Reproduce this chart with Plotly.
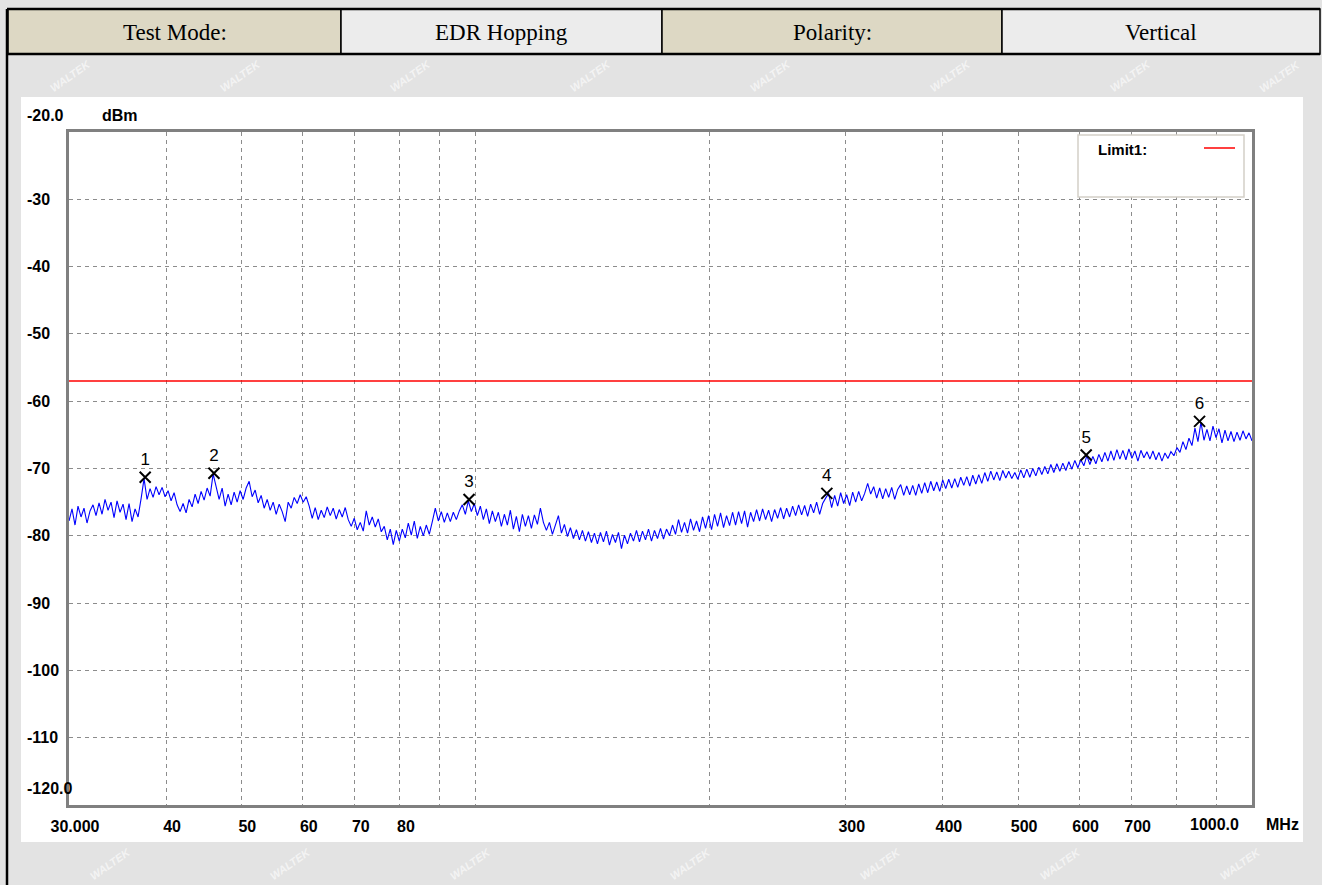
import numpy as np
import plotly.graph_objects as go

# ---------------- data ----------------
header_cells = ["Test Mode:", "EDR Hopping", "Polarity:", "Vertical"]
limit_level = -57.0
limit_freq = [30, 1000]
marker_labels = ["1", "2", "3", "4", "5", "6"]
marker_freq = [37.6, 46.1, 98.2, 283.6, 611.7, 856.0]
marker_level = [-71.3, -70.7, -74.6, -73.7, -68.0, -63.0]
x_tick_vals = [30, 40, 50, 60, 70, 80, 300, 400, 500, 600, 700]
x_tick_text = ["30.000", "40", "50", "60", "70", "80", "300", "400", "500", "600", "700"]
x_grid_vals = [40, 50, 60, 70, 80, 90, 100, 200, 300, 400, 500, 600, 700, 800, 900]
y_tick_vals = [-20, -30, -40, -50, -60, -70, -80, -90, -100, -110, -120]
y_tick_text = ["-20.0", "-30", "-40", "-50", "-60", "-70", "-80", "-90", "-100", "-110", "-120.0"]

levels = [
    -77.8, -76.0, -78.4, -75.6, -77.2, -75.9, -78.1, -76.3, -75.4, -77.0,
    -75.1, -76.8, -74.6, -76.2, -75.0, -77.3, -74.8, -76.5, -75.3, -77.6,
    -75.2, -77.9, -76.0, -77.2, -74.5, -71.5, -74.6, -73.0, -74.3, -72.7,
    -73.9, -72.8, -74.2, -73.3, -74.8, -73.6, -75.4, -76.4, -75.2, -76.6,
    -74.6, -75.7, -73.8, -75.2, -73.4, -74.7, -72.9, -74.1, -70.8, -72.7,
    -74.6, -72.9, -75.6, -73.8, -75.4, -73.5, -75.0, -73.3, -74.6, -72.9,
    -71.9, -74.2, -73.2, -75.1, -74.0, -75.9, -74.6, -76.2, -75.0, -76.8,
    -75.3, -76.4, -77.9, -75.0, -75.9, -74.3, -75.2, -73.9, -75.0, -74.2,
    -75.6, -77.4, -75.8, -77.6, -76.2, -77.3, -75.7, -77.0, -75.9, -77.5,
    -76.1, -77.2, -75.8, -77.6, -78.6, -77.4, -79.1, -78.0, -79.3, -76.3,
    -78.4, -77.2, -78.7, -77.5, -79.4, -78.6, -80.6, -79.0, -81.3, -79.2,
    -80.8, -79.0, -80.3, -78.1, -79.9, -77.8, -80.4, -78.6, -80.0, -78.4,
    -79.8, -77.9, -75.9, -77.8, -76.4, -78.0, -76.6, -77.9, -76.5, -77.6,
    -76.3, -75.4, -76.8, -74.8, -76.4, -75.2, -77.0, -75.6, -77.6, -76.0,
    -78.2, -76.3, -77.9, -76.5, -78.6, -76.8, -78.4, -76.2, -79.0, -77.1,
    -79.4, -76.8, -78.6, -77.0, -78.9, -76.9, -78.3, -75.9, -78.0, -79.2,
    -78.0, -79.8, -78.4, -77.0, -79.6, -78.3, -80.1, -78.8, -80.4, -79.1,
    -80.6, -79.2, -80.8, -79.4, -81.0, -79.6, -81.2, -79.5, -80.9, -79.3,
    -81.4, -79.8, -81.0, -79.5, -81.9, -79.9, -81.2, -79.6, -80.8, -79.2,
    -80.9, -79.3, -80.6, -79.0, -80.8, -79.2, -80.4, -78.9, -80.5, -79.0,
    -80.0, -78.4, -79.8, -77.6, -79.5, -78.0, -79.6, -77.5, -79.2, -77.8,
    -79.4, -77.2, -78.9, -77.0, -79.1, -76.8, -78.6, -76.6, -78.8, -77.0,
    -78.5, -76.5, -78.4, -76.4, -78.2, -76.3, -78.7, -76.5, -77.9, -76.1,
    -77.8, -76.0, -77.6, -76.2, -77.9, -76.1, -77.4, -75.8, -77.5, -75.9,
    -77.2, -75.6, -77.0, -75.4, -76.9, -75.5, -77.1, -75.3, -76.6, -75.0,
    -76.8, -75.2, -74.4, -73.7, -75.8, -74.0, -75.6, -73.6, -75.2, -73.9,
    -75.5, -73.5, -75.0, -73.4, -74.8, -73.7, -72.2, -73.8, -72.7, -74.4,
    -72.9, -74.5, -73.0, -74.3, -72.8, -74.6, -73.1, -72.4, -74.0, -72.6,
    -73.9, -72.5, -74.0, -72.3, -73.7, -72.1, -73.6, -71.9, -73.3, -72.0,
    -73.4, -71.7, -73.0, -71.6, -72.9, -71.5, -72.8, -71.3, -72.5, -71.2,
    -72.6, -71.0, -72.3, -70.9, -72.2, -70.6, -71.9, -70.4, -71.7, -70.5,
    -71.8, -70.3, -71.4, -70.4, -71.5, -70.6, -71.6, -70.2, -71.4, -70.1,
    -71.3, -70.0, -71.1, -69.8, -70.9, -69.7, -70.8, -69.4, -70.6, -69.3,
    -70.4, -69.2, -70.3, -69.0, -70.1, -68.8, -69.9, -68.7, -69.6, -68.1,
    -69.4, -68.2, -69.3, -67.9, -69.0, -67.6, -68.9, -67.4, -68.8, -67.2,
    -68.6, -67.3, -68.7, -67.1, -68.5, -67.4, -68.9, -67.3, -68.4, -67.5,
    -68.6, -67.4, -68.7, -67.6, -68.9, -67.7, -68.5, -67.5, -68.1, -66.9,
    -67.6, -66.0, -67.2, -65.5, -66.6, -64.0, -66.0, -63.1, -65.8, -64.2,
    -65.9, -63.7, -65.4, -64.1, -66.2, -64.3, -65.9, -64.5, -66.0, -64.6,
    -65.8, -64.4, -65.6, -64.7, -65.9,
]
# sweep frequencies (log-spaced receiver sweep 30 MHz .. 1 GHz)
sweep_freq = np.geomspace(30, 1000, len(levels))

# ---------------- layout geometry (pixels) ----------------
W, H = 1322, 885
L, R, T, B = 69, 1252, 132, 805


def px(x):
    return (x - L) / (R - L)


def py(y):
    return (B - y) / (B - T)


AX_FONT = dict(family="Liberation Sans", size=16, color="black")
GRID = "#8c8c8c"

fig = go.Figure()

fig.add_trace(go.Scatter(x=sweep_freq, y=levels, mode="lines",
                         line=dict(color="#0000ff", width=1.1), hoverinfo="skip"))
fig.add_trace(go.Scatter(x=limit_freq, y=[limit_level, limit_level], mode="lines",
                         line=dict(color="#ff0000", width=1.5), hoverinfo="skip"))
fig.add_trace(go.Scatter(x=marker_freq, y=marker_level, mode="markers+text",
                         text=marker_labels, textposition="top center",
                         textfont=dict(family="Liberation Sans", size=17, color="black"),
                         marker=dict(symbol="x-thin", size=11,
                                     line=dict(color="black", width=2)),
                         hoverinfo="skip"))

shapes = []
# white chart panel
shapes.append(dict(type="rect", xref="paper", yref="paper", x0=px(21), x1=px(1303),
                   y0=py(842), y1=py(97), fillcolor="white", line=dict(width=0), layer="below"))
# header cells
cell_edges = [8, 341, 662, 1002, 1320]
cell_fill = ["#ddd8c4", "#ececec", "#ddd8c4", "#ececec"]
HT, HB = 9, 54
for i in range(4):
    shapes.append(dict(type="rect", xref="paper", yref="paper",
                       x0=px(cell_edges[i]), x1=px(cell_edges[i + 1]),
                       y0=py(HB), y1=py(HT), fillcolor=cell_fill[i],
                       line=dict(color="black", width=1.5), layer="below"))
shapes.append(dict(type="line", xref="paper", yref="paper", x0=px(7), x1=px(1320),
                   y0=py(HT), y1=py(HT), line=dict(color="black", width=2.5)))
shapes.append(dict(type="line", xref="paper", yref="paper", x0=px(7), x1=px(1320),
                   y0=py(HB), y1=py(HB), line=dict(color="black", width=2.5)))
shapes.append(dict(type="line", xref="paper", yref="paper", x0=px(7), x1=px(7),
                   y0=py(HT), y1=py(H + 5), line=dict(color="black", width=2.5)))
# legend box
shapes.append(dict(type="rect", xref="paper", yref="paper", x0=px(1078), x1=px(1244),
                   y0=py(197), y1=py(135), fillcolor="white",
                   line=dict(color="#d4d0c8", width=1.5)))
shapes.append(dict(type="line", xref="paper", yref="paper", x0=px(1204), x1=px(1235),
                   y0=py(148), y1=py(148), line=dict(color="#ff0000", width=1.5)))

annotations = []
# watermark (kept inside the grey bands)
wm_pos = [(70, 76), (240, 76), (410, 76), (590, 76), (770, 76), (950, 76), (1130, 76), (1280, 76),
          (110, 864), (290, 864), (470, 864), (690, 864), (880, 864), (1060, 864), (1240, 864)]
for (wx, wy) in wm_pos:
    annotations.append(dict(x=px(wx), y=py(wy), xref="paper", yref="paper", text="<b><i>WALTEK</i></b>",
                            showarrow=False, textangle=-35, xanchor="center", yanchor="middle",
                            font=dict(family="Liberation Sans", size=11, color="rgba(255,255,255,0.6)")))
# header text
for i, t in enumerate(header_cells):
    annotations.append(dict(x=px((cell_edges[i] + cell_edges[i + 1]) / 2), y=py(32),
                            xref="paper", yref="paper", text=t, showarrow=False,
                            xanchor="center", yanchor="middle",
                            font=dict(family="Liberation Serif", size=23, color="black")))
# y tick labels (left-aligned)
for v, t in zip(y_tick_vals, y_tick_text):
    shift = 17 if v in (-20, -120) else 0
    annotations.append(dict(x=px(25), y=v, xref="paper", yref="y", text="<b>" + t + "</b>",
                            xanchor="left", yanchor="middle", showarrow=False, yshift=shift,
                            font=AX_FONT))
annotations.append(dict(x=px(100), y=-20, xref="paper", yref="y", text="<b>dBm</b>",
                        xanchor="left", yanchor="middle", showarrow=False, yshift=17, font=AX_FONT))
annotations.append(dict(x=px(1188), y=py(825), xref="paper", yref="paper", text="<b>1000.0</b>",
                        xanchor="left", yanchor="middle", showarrow=False, font=AX_FONT))
annotations.append(dict(x=px(1264), y=py(825), xref="paper", yref="paper", text="<b>MHz</b>",
                        xanchor="left", yanchor="middle", showarrow=False, font=AX_FONT))
annotations.append(dict(x=px(1096), y=py(149), xref="paper", yref="paper", text="<b>Limit1:</b>",
                        xanchor="left", yanchor="middle", showarrow=False,
                        font=dict(family="Liberation Sans", size=15, color="black")))

fig.update_layout(
    width=W, height=H,
    margin=dict(l=L, r=W - R, t=T, b=H - B, pad=0),
    paper_bgcolor="#e3e3e3", plot_bgcolor="white",
    showlegend=False,
    shapes=shapes, annotations=annotations,
    xaxis=dict(type="log", range=[np.log10(30), np.log10(1000)],
               tickvals=x_tick_vals, ticktext=["<b>" + t + "</b>" for t in x_tick_text],
               tickfont=AX_FONT, ticks="", showgrid=False, zeroline=False,
               ticklabelshift=6, ticklabelstandoff=5,
               showline=True, mirror=True, linecolor="#808080", linewidth=3,
               minor=dict(tickvals=x_grid_vals, showgrid=True, gridcolor=GRID,
                          griddash="4px,4px", gridwidth=1, ticks="")),
    yaxis=dict(range=[-120, -20], tickvals=[-30, -40, -50, -60, -70, -80, -90, -100, -110],
               showticklabels=False, ticks="", showgrid=True, gridcolor=GRID,
               griddash="4px,4px", gridwidth=1, zeroline=False,
               showline=True, mirror=True, linecolor="#808080", linewidth=3),
)

fig.write_html("out.html", config={"displayModeBar": False},
               post_script="document.body.style.margin='0';document.body.style.overflow='hidden';")
